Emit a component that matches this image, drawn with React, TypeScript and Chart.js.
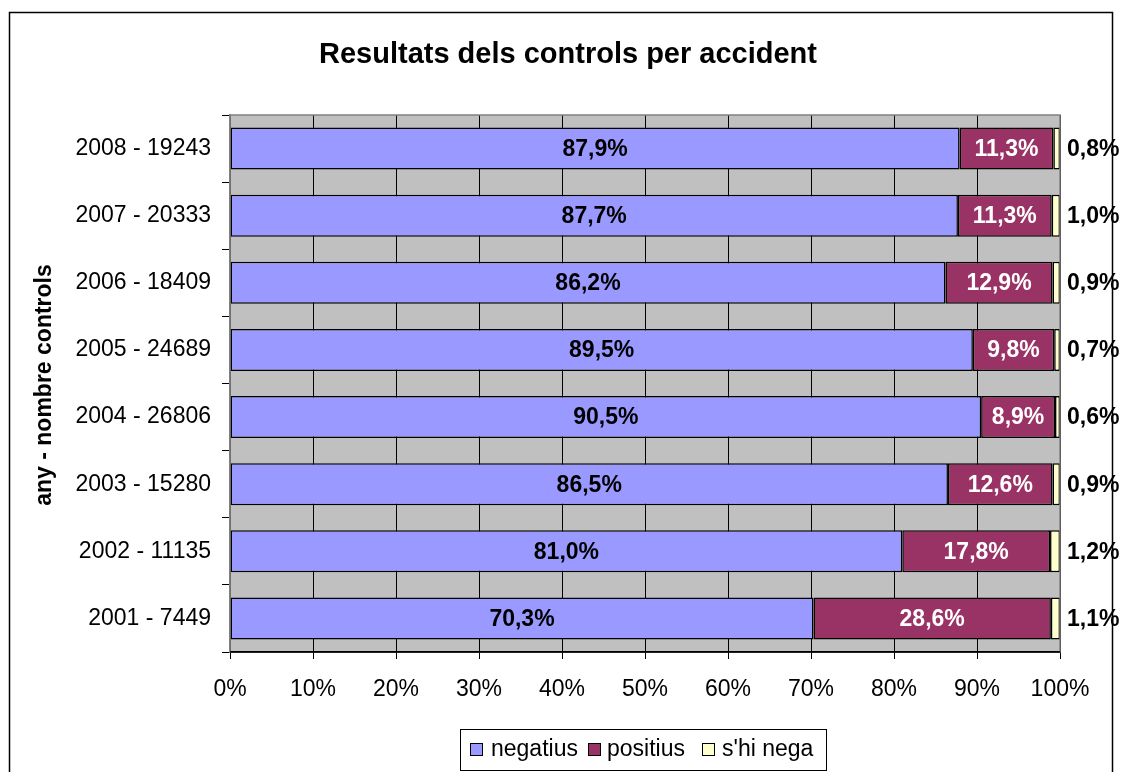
import React, { useEffect, useRef } from "react";
import { Chart, registerables } from "chart.js";

Chart.register(...registerables);

const categories = [
  "2008 - 19243",
  "2007 - 20333",
  "2006 - 18409",
  "2005 - 24689",
  "2004 - 26806",
  "2003 - 15280",
  "2002 - 11135",
  "2001 - 7449",
];
const negatius = [87.9, 87.7, 86.2, 89.5, 90.5, 86.5, 81.0, 70.3];
const positius = [11.3, 11.3, 12.9, 9.8, 8.9, 12.6, 17.8, 28.6];
const shiNega = [0.8, 1.0, 0.9, 0.7, 0.6, 0.9, 1.2, 1.1];
const seriesNames = ["negatius", "positius", "s'hi nega"];
const seriesColors = ["#9999FF", "#993366", "#FFFFCC"];
const xTicks = [0, 10, 20, 30, 40, 50, 60, 70, 80, 90, 100];

const FONT = "Arial, 'Liberation Sans', sans-serif";
const fmt = (v: number) => v.toFixed(1).replace(".", ",") + "%";

const framePlugin = {
  id: "frame",
  beforeDraw(chart: any) {
    const { ctx, chartArea: a } = chart;
    ctx.save();
    ctx.fillStyle = "#ffffff";
    ctx.fillRect(0, 0, chart.width, chart.height);
    ctx.fillStyle = "#C0C0C0";
    ctx.fillRect(a.left, a.top, a.right - a.left, a.bottom - a.top);
    ctx.restore();
  },
  afterDraw(chart: any) {
    const { ctx, chartArea: a } = chart;
    ctx.save();
    // plot border
    ctx.strokeStyle = "#808080";
    ctx.lineWidth = 1.5;
    ctx.beginPath();
    ctx.moveTo(a.left, a.bottom);
    ctx.lineTo(a.left, a.top);
    ctx.lineTo(a.right, a.top);
    ctx.lineTo(a.right, a.bottom);
    ctx.stroke();
    ctx.strokeStyle = "#000";
    ctx.lineWidth = 1.5;
    ctx.beginPath();
    ctx.moveTo(a.left, a.bottom);
    ctx.lineTo(a.right, a.bottom);
    ctx.stroke();
    // outer frame
    ctx.strokeStyle = "#000";
    ctx.lineWidth = 1.5;
    ctx.strokeRect(9.5, 12.5, 1103, 800);
    // title
    ctx.fillStyle = "#000";
    ctx.font = `bold 29px ${FONT}`;
    ctx.textAlign = "center";
    ctx.textBaseline = "middle";
    ctx.fillText("Resultats dels controls per accident", 568, 55);
    // y axis title
    ctx.save();
    ctx.translate(45, 385);
    ctx.rotate(-Math.PI / 2);
    ctx.font = `bold 23px ${FONT}`;
    ctx.fillText("any - nombre controls", 0, 0);
    ctx.restore();
    // legend
    ctx.strokeStyle = "#000";
    ctx.lineWidth = 1;
    ctx.fillStyle = "#fff";
    ctx.fillRect(460.5, 729.5, 366, 41);
    ctx.strokeRect(460.5, 729.5, 366, 41);
    const sq = [470, 588, 702];
    const tx = [491, 607, 722];
    ctx.font = `23px ${FONT}`;
    ctx.textAlign = "left";
    ctx.textBaseline = "middle";
    for (let i = 0; i < 3; i++) {
      ctx.fillStyle = seriesColors[i];
      ctx.fillRect(sq[i] + 0.5, 743.5, 12, 12);
      ctx.strokeStyle = "#000";
      ctx.strokeRect(sq[i] + 0.5, 743.5, 12, 12);
      ctx.fillStyle = "#000";
      ctx.fillText(seriesNames[i], tx[i], 750);
    }
    ctx.restore();
  },
  afterDatasetsDraw(chart: any) {
    const { ctx, chartArea: a } = chart;
    ctx.save();
    ctx.font = `bold 23px ${FONT}`;
    ctx.textBaseline = "middle";
    chart.data.datasets.forEach((ds: any, di: number) => {
      const meta = chart.getDatasetMeta(di);
      meta.data.forEach((bar: any, i: number) => {
        const v = ds.data[i];
        if (di < 2) {
          ctx.textAlign = "center";
          ctx.fillStyle = di === 0 ? "#000" : "#fff";
          ctx.fillText(fmt(v), (bar.x + bar.base) / 2, bar.y + 1);
        } else {
          ctx.textAlign = "left";
          ctx.fillStyle = "#000";
          ctx.fillText(fmt(v), a.right + 7, bar.y + 1);
        }
      });
    });
    ctx.restore();
  },
};

export default function App() {
  const ref = useRef<HTMLCanvasElement | null>(null);
  useEffect(() => {
    if (!ref.current) return;
    const data = [negatius, positius, shiNega];
    const chart = new Chart(ref.current, {
      type: "bar",
      data: {
        labels: categories,
        datasets: data.map((d, i) => ({
          label: seriesNames[i],
          data: d,
          backgroundColor: seriesColors[i],
          borderColor: "#000",
          borderWidth: 1.5,
          borderSkipped: false,
          barPercentage: 0.626,
          categoryPercentage: 1,
        })),
      },
      options: {
        indexAxis: "y",
        responsive: false,
        animation: false,
        devicePixelRatio: 1,
        layout: { padding: { left: 0, right: 62, top: 115, bottom: 0 } },
        plugins: {
          legend: { display: false },
          title: { display: false },
          tooltip: { enabled: false },
        },
        scales: {
          x: {
            stacked: true,
            min: 0,
            max: 100,
            afterFit: (s: any) => {
              s.height = 120;
            },
            afterBuildTicks: (s: any) => {
              s.ticks = xTicks.map((v) => ({ value: v }));
            },
            ticks: {
              stepSize: 10,
              callback: (v: any) => v + "%",
              color: "#000",
              font: { family: FONT, size: 23 },
              padding: 17,
              maxRotation: 0,
            },
            grid: { color: "#000", lineWidth: 1, tickLength: 7 },
            border: { color: "#000", width: 1.5 },
          },
          y: {
            stacked: true,
            afterFit: (s: any) => {
              s.width = 230;
            },
            ticks: {
              color: "#000",
              font: { family: FONT, size: 23 },
              padding: 11,
            },
            grid: {
              drawOnChartArea: false,
              drawTicks: true,
              tickLength: 8,
              color: "#000",
              offset: true,
            },
            border: { color: "#808080", width: 1.5 },
          },
        },
      },
      plugins: [framePlugin],
    });
    return () => chart.destroy();
  }, []);
  return (
    <div style={{ position: "absolute", left: 0, top: 0, width: 1122, height: 772, overflow: "hidden" }}>
      <canvas ref={ref} width={1122} height={772} style={{ width: 1122, height: 772, display: "block" }} />
    </div>
  );
}
